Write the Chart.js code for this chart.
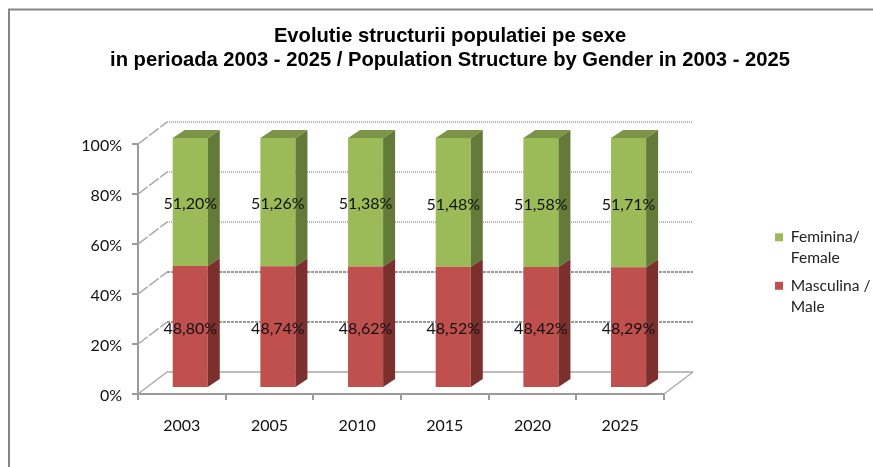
<!DOCTYPE html>
<html><head><meta charset="utf-8">
<style>html,body{margin:0;padding:0;background:#fff;overflow:hidden}canvas{display:block}</style>
<script src="https://cdn.jsdelivr.net/npm/chart.js@4"></script>
</head><body><canvas id="c" width="873" height="467"></canvas>
<script>
const categories = ['2003','2005','2010','2015','2020','2025'];
const female = [51.20,51.26,51.38,51.48,51.58,51.71];
const male = [48.80,48.74,48.62,48.52,48.42,48.29];
const femaleLabel = ['Feminina/','Female'];
const maleLabel = ['Masculina /','Male'];
const titleLines = ['Evolutie structurii populatiei pe sexe','in perioada 2003 - 2025 / Population Structure by Gender in 2003 - 2025'];
const GREEN={front:'#9BBB59',side:'#637A38',top:'#7B9448'}, RED={front:'#C0504D',side:'#7B302E',top:'#8C3836'};
const WALL={dx:29,dy:22}, BAR={dx:8.4,dy:6,depthX:12,depthY:8};
const gridStyles=[
 {c:'#a6a6a6',dash:[],w:1.5},{c:'#999999',dash:[3,1],w:2},{c:'#999999',dash:[3,1],w:2},
 {c:'#b4b4b4',dash:[1,1],w:2},{c:'#b4b4b4',dash:[1,1],w:2},{c:'#b4b4b4',dash:[1,1],w:2}];
const scene={
 id:'scene',
 beforeLayout(chart){
  const lg=chart.legend;
  if(!lg._fitWrapped){const f=lg.fit;lg.fit=function(){f.call(this);this.width=209;};lg._fitWrapped=true;}
 },
 afterLayout(chart){
  const lg=chart.legend;
  lg.left=768;lg.top+=41;lg.bottom+=41;
  chart.titleBlock.left=27;
 },
 beforeDraw(chart){
  const ctx=chart.ctx;ctx.save();ctx.strokeStyle='#868686';ctx.lineWidth=2;ctx.strokeRect(9,9.5,1000,1000);ctx.restore();
 },
 beforeDatasetsDraw(chart){
  const ctx=chart.ctx,y=chart.scales.y,a=chart.chartArea;
  ctx.save();
  y.ticks.forEach((t,i)=>{
   const p=y.getPixelForValue(t.value),s=gridStyles[i]||gridStyles[0];
   ctx.strokeStyle=s.c;ctx.lineWidth=s.w;ctx.setLineDash(s.dash);
   ctx.beginPath();ctx.moveTo(a.left+WALL.dx,p-WALL.dy);ctx.lineTo(a.right+WALL.dx,p-WALL.dy);ctx.stroke();
   ctx.strokeStyle='#ababab';ctx.lineWidth=1.5;ctx.setLineDash(i===0?[]:[12,2]);
   ctx.beginPath();ctx.moveTo(a.left,p);ctx.lineTo(a.left+WALL.dx,p-WALL.dy);ctx.stroke();
  });
  const b=y.getPixelForValue(0);
  ctx.setLineDash([]);ctx.strokeStyle='#ababab';
  ctx.beginPath();ctx.moveTo(a.right,b);ctx.lineTo(a.right+WALL.dx,b-WALL.dy);ctx.stroke();
  ctx.restore();
  ctx.save();ctx.translate(BAR.dx,-BAR.dy);
 },
 afterDatasetsDraw(chart){
  const ctx=chart.ctx,n=chart.data.datasets.length;
  chart.data.datasets.forEach((ds,k)=>{
   const col=k===0?RED:GREEN;
   chart.getDatasetMeta(k).data.forEach(el=>{
    const {x,y,base,width}=el.getProps(['x','y','base','width']);
    const r=x+width/2,l=x-width/2;
    ctx.fillStyle=col.side;ctx.beginPath();
    ctx.moveTo(r,y);ctx.lineTo(r+BAR.depthX,y-BAR.depthY);ctx.lineTo(r+BAR.depthX,base-BAR.depthY);ctx.lineTo(r,base);ctx.closePath();ctx.fill();
    if(k===n-1){
     ctx.fillStyle=col.top;ctx.beginPath();
     ctx.moveTo(l,y);ctx.lineTo(l+BAR.depthX,y-BAR.depthY);ctx.lineTo(r+BAR.depthX,y-BAR.depthY);ctx.lineTo(r,y);ctx.closePath();ctx.fill();
    }
   });
  });
  ctx.restore();
  ctx.save();
  ctx.font='16px Lato';ctx.fillStyle='#111';ctx.textAlign='center';ctx.textBaseline='middle';
  chart.data.datasets.forEach((ds,k)=>{
   chart.getDatasetMeta(k).data.forEach((el,j)=>{
    const {x,y,base}=el.getProps(['x','y','base']);
    ctx.fillText(ds.data[j].toFixed(2).replace('.',',')+'%',x+BAR.dx,(y+base)/2-BAR.dy+2);
   });
  });
  ctx.restore();
 }
};
new Chart(document.getElementById('c'),{
 type:'bar',
 data:{labels:categories,datasets:[
  {label:maleLabel,data:male,backgroundColor:RED.front,borderWidth:0},
  {label:femaleLabel,data:female,backgroundColor:GREEN.front,borderWidth:0}]},
 plugins:[scene],
 options:{
  responsive:false,animation:false,
  layout:{padding:{left:0,right:0,top:0,bottom:0}},
  datasets:{bar:{categoryPercentage:1,barPercentage:0.4}},
  plugins:{
   tooltip:{enabled:false},
   title:{display:true,text:titleLines,color:'#000',font:{family:'"Liberation Sans"',size:20.2,weight:'bold',lineHeight:1.19},padding:{top:24,bottom:72}},
   legend:{position:'right',reverse:true,onClick:null,
    labels:{boxWidth:8,boxHeight:8,padding:7,color:'#222',font:{family:'Lato',size:15.6,lineHeight:1.33}}}
  },
  scales:{
   x:{stacked:true,
    grid:{drawOnChartArea:false,color:'#9a9a9a',lineWidth:2,tickLength:6,offset:true},
    border:{color:'#9a9a9a',width:2},
    ticks:{color:'#111',padding:16,font:{family:'Lato',size:16},maxRotation:0},
    afterFit(s){s.height=73;}},
   y:{stacked:true,min:0,max:100,
    grid:{drawOnChartArea:false,color:'#9a9a9a',lineWidth:2,tickLength:6},
    border:{color:'#9a9a9a',width:2},
    ticks:{stepSize:20,color:'#111',padding:10,labelOffset:2,font:{family:'Lato',size:16},callback:v=>v+'%'},
    afterFit(s){s.width=138;}}
  }
 }
});
</script></body></html>
